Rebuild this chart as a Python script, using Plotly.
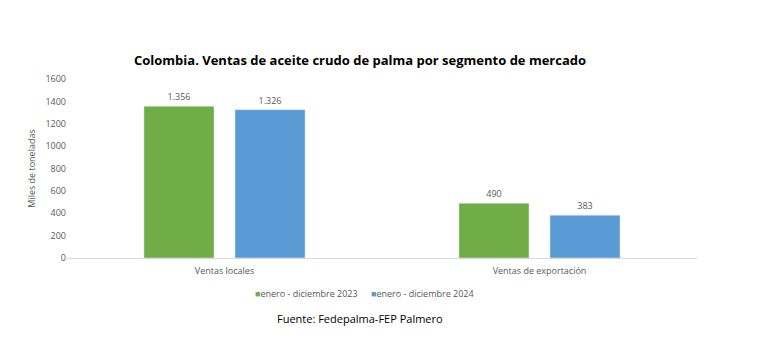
import plotly.graph_objects as go

categories = ["Ventas locales", "Ventas de exportación"]
series_names = ["enero - diciembre 2023", "enero - diciembre 2024"]
values_2023 = [1356, 490]
values_2024 = [1326, 383]
y_ticks = [0, 200, 400, 600, 800, 1000, 1200, 1400, 1600]
colors = ["#70AD47", "#5B9BD5"]

fig = go.Figure()
for name, vals, col in zip(series_names, [values_2023, values_2024], colors):
    fig.add_trace(go.Bar(
        x=categories, y=vals, name=name, marker_color=col,
        texttemplate="%{y:,}", textposition="outside",
        textfont=dict(size=9, color="#595959", family="Open Sans"),
        cliponaxis=False, showlegend=False,
    ))

plot_l, plot_r = 67, 697
plot_top, plot_bot = 79, 258
pw = plot_r - plot_l
ph = plot_bot - plot_top

annotations = [
    dict(text="<b>Colombia. Ventas de aceite crudo de palma por segmento de mercado</b>",
         xref="paper", yref="paper", x=(360 - plot_l) / pw, y=1 + 19 / ph,
         xanchor="center", yanchor="middle", showarrow=False,
         font=dict(size=13, color="black", family="Open Sans")),
    dict(text="Fuente: Fedepalma-FEP Palmero",
         xref="paper", yref="paper", x=(360 - plot_l) / pw, y=-60 / ph,
         xanchor="center", yanchor="middle", showarrow=False,
         font=dict(size=11, color="black", family="Open Sans")),
]
legend_x = [253, 369]
for name, col, lx in zip(series_names, colors, legend_x):
    annotations.append(dict(
        text=f"<span style='color:{col}'>■</span>{name}",
        xref="paper", yref="paper", x=(lx - plot_l) / pw, y=-35 / ph,
        xanchor="left", yanchor="middle", showarrow=False,
        font=dict(size=9, color="#595959", family="Open Sans")))

fig.update_layout(
    width=769, height=354,
    margin=dict(l=plot_l, r=769 - plot_r, t=plot_top, b=354 - plot_bot),
    paper_bgcolor="white", plot_bgcolor="white",
    separators=",.",
    barmode="group", bargap=0.422, bargroupgap=0.23,
    font=dict(family="Open Sans", color="#595959"),
    showlegend=False,
    xaxis=dict(showline=True, linecolor="#D9D9D9", linewidth=1, ticks="outside",
               ticklen=4, tickcolor="rgba(0,0,0,0)",
               tickfont=dict(size=9, color="#595959")),
    yaxis=dict(range=[0, 1600], tickvals=y_ticks, showgrid=False, zeroline=False,
               showline=False, tickfont=dict(size=9, color="#595959"),
               title=dict(text="Miles de toneladas", font=dict(size=9, color="#595959"), standoff=8)),
    annotations=annotations,
)

fig.write_html("out.html")
